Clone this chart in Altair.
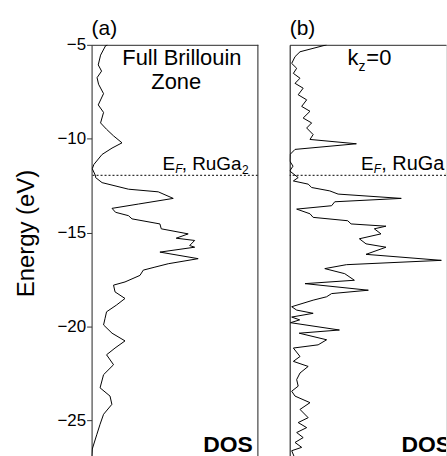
import altair as alt
import pandas as pd

# Density of states of RuGa2 (arbitrary units) versus energy (eV)
energy_a = [-5.0, -5.05, -5.55, -6.07, -6.4, -6.75, -7.1, -7.6, -8.2, -8.6, -9.16, -9.5,
            -9.85, -10.22, -10.5, -10.84, -11.37, -11.6, -11.98, -12.07, -12.34, -12.69,
            -12.83, -13.18, -13.48, -13.71, -13.92, -14.1, -14.27, -14.54, -14.8, -15.07,
            -15.3, -15.42, -15.69, -15.78, -16.04, -16.39, -16.66, -16.84, -17.0, -17.28,
            -17.63, -17.8, -18.16, -18.51, -18.86, -19.22, -19.57, -19.92, -20.36, -20.77,
            -21.15, -21.51, -22.04, -22.57, -23.27, -23.71, -24.15, -24.68, -25.21, -25.74,
            -26.53, -27.0]
dos_a = [0.96, 0.84, 0.54, 0.40, 0.60, 0.33, 0.42, 0.72, 0.40, 0.72, 0.54, 0.90,
         1.32, 1.83, 1.23, 0.63, 0.14, 0.04, 0.24, 0.24, 0.63, 2.22,
         4.01, 4.91, 2.82, 1.23, 1.44, 2.22, 2.43, 4.11, 4.19, 5.81,
         5.09, 6.20, 5.90, 6.20, 4.11, 6.41, 4.61, 3.81, 3.11, 2.91,
         2.01, 1.32, 1.41, 2.01, 1.50, 0.90, 0.81, 0.72, 1.23, 2.01,
         1.41, 0.90, 1.32, 0.72, 0.51, 1.11, 1.22, 0.72, 0.51, 0.32,
         0.04, 0.0]

energy_b = [-5.0, -5.37, -5.63, -5.99, -6.25, -6.52, -6.78, -7.05, -7.31, -7.66, -7.93,
            -8.28, -8.54, -8.9, -9.16, -9.43, -9.78, -10.04, -10.27, -10.57, -10.84,
            -11.19, -11.46, -11.72, -12.07, -12.25, -12.42, -12.6, -12.78, -12.95, -13.18,
            -13.36, -13.57, -13.75, -14.0, -14.19, -14.37, -14.54, -14.66, -14.8, -15.07,
            -15.33, -15.6, -15.78, -16.16, -16.48, -16.71, -16.92, -17.19, -17.54, -17.72,
            -18.07, -18.25, -18.42, -18.6, -18.95, -19.13, -19.3, -19.5, -19.65, -19.8,
            -20.19, -20.36, -20.71, -20.98, -21.15, -21.6, -21.86, -22.13, -22.48, -22.83,
            -23.18, -23.45, -23.71, -24.06, -24.42, -24.86, -25.12, -25.39, -25.65, -25.92,
            -26.18, -26.44, -26.62, -27.0]
dos_b = [2.22, 0.62, 0.32, 0.12, 0.42, 0.22, 0.62, 0.32, 0.81, 0.51, 1.02,
         0.72, 1.22, 0.81, 1.32, 1.02, 1.41, 1.22, 4.01, 0.32, 0.02,
         0.0, 0.20, 0.0, 0.51, 0.22, 1.11, 1.32, 2.41, 2.91, 6.71,
         2.71, 2.52, 0.42, 1.22, 1.41, 3.49, 3.69, 5.79, 5.09, 5.49,
         4.19, 4.59, 5.79, 4.59, 9.12, 3.41, 2.11, 3.31, 3.89, 0.92,
         4.73, 2.52, 2.22, 1.41, 0.12, 0.42, 1.41, 0.12, 0.60, 0.05,
         2.99, 0.57, 2.22, 1.71, 0.22, 0.62, 0.22, 1.11, 0.62, 0.42,
         0.51, 0.12, 0.32, 1.22, 0.62, 1.11, 0.51, 1.02, 0.42, 0.81,
         0.32, 0.72, 0.12, 0.30]

energy_ticks = [-25, -20, -15, -10, -5]
fermi_level = -11.95

FONT = "Liberation Sans"
W_A, W_B, H = 167, 157, 413
E_TOP, E_BOTTOM = -5.0, -26.9
DOS_PER_PX = 10 / W_A
FRAME = "#333333"

y_scale = alt.Scale(domain=[E_BOTTOM, E_TOP], nice=False, zero=False)
top_frame = alt.Axis(orient="top", labels=False, ticks=False, title=None,
                     grid=False, domainColor=FRAME, domainWidth=1)


def text(label, x, y, size, align="left", weight="normal", style="normal", clip=False):
    return alt.Chart(alt.Data(values=[{}])).mark_text(
        text=label, align=align, baseline="alphabetic", fontSize=size, font=FONT,
        fontWeight=weight, fontStyle=style, color="black", clip=clip,
    ).encode(x=alt.value(x), y=alt.value(y))


def curve(energy, dos, width, y_axis):
    df = pd.DataFrame({"energy": energy, "dos": dos, "i": range(len(energy))})
    return alt.Chart(df).mark_line(color="black", strokeWidth=1, clip=True).encode(
        x=alt.X("dos:Q", scale=alt.Scale(domain=[0, width * DOS_PER_PX], nice=False),
                axis=top_frame),
        y=alt.Y("energy:Q", scale=y_scale, axis=y_axis),
        order="i:Q",
    )


def fermi_rule():
    return alt.Chart(pd.DataFrame({"energy": [fermi_level]})).mark_rule(
        color="black", strokeWidth=1, strokeDash=[2, 2]
    ).encode(y=alt.Y("energy:Q", scale=y_scale))


axis_a = alt.Axis(
    values=energy_ticks, orient="left", grid=False, tickSize=5, tickColor=FRAME,
    domainColor=FRAME, labelFont=FONT, labelFontSize=17, labelColor="black",
    labelPadding=1, title="Energy (eV)", titleFont=FONT, titleFontSize=24,
    titleFontWeight="normal", titleColor="black", titleAngle=270, titleAlign="center",
    titleBaseline="middle", titleX=-65, titleY=189,
)
axis_b = alt.Axis(orient="left", labels=False, ticks=False, title=None, grid=False,
                  domainColor="#111111")

right_edge_a = alt.Chart(alt.Data(values=[{}])).mark_rule(color=FRAME, strokeWidth=1).encode(
    x=alt.value(W_A), y=alt.value(0), y2=alt.value(H)
)

panel_a = alt.layer(
    curve(energy_a, dos_a, W_A, axis_a),
    fermi_rule(),
    right_edge_a,
    text("(a)", 0, -10, 21),
    text("Full Brillouin", 90.7, 20.3, 22, align="center"),
    text("Zone", 85, 44.3, 22, align="center"),
    text("E", 71.3, 125.3, 19),
    text("F", 84, 128.8, 12, style="italic"),
    text(", RuGa", 90.5, 125.3, 19),
    text("2", 151, 129.5, 12),
    text("DOS", 162, 408.7, 23, align="right", weight="bold"),
).properties(width=W_A, height=H)

panel_b = alt.layer(
    curve(energy_b, dos_b, W_B, axis_b),
    fermi_rule(),
    text("(b)", 0, -10, 21),
    text("k", 58, 20.3, 22),
    text("z", 69, 26, 14),
    text("=0", 77, 20.3, 22),
    text("E", 71.7, 125.3, 19, clip=True),
    text("F", 84.5, 128.8, 12, style="italic", clip=True),
    text(", RuGa", 92, 125.3, 20, clip=True),
    text("2", 156.5, 129.5, 12, clip=True),
    text("DOS", 162, 408.7, 23, align="right", weight="bold", clip=True),
).properties(width=W_B, height=H)

chart = alt.hconcat(panel_a, panel_b, spacing=32, bounds="flush").properties(
    padding={"left": 14, "top": 16, "right": 0, "bottom": 0}
).configure_view(stroke=None).configure(font=FONT)

chart.save("out.html", embed_options={"renderer": "svg", "actions": False})
